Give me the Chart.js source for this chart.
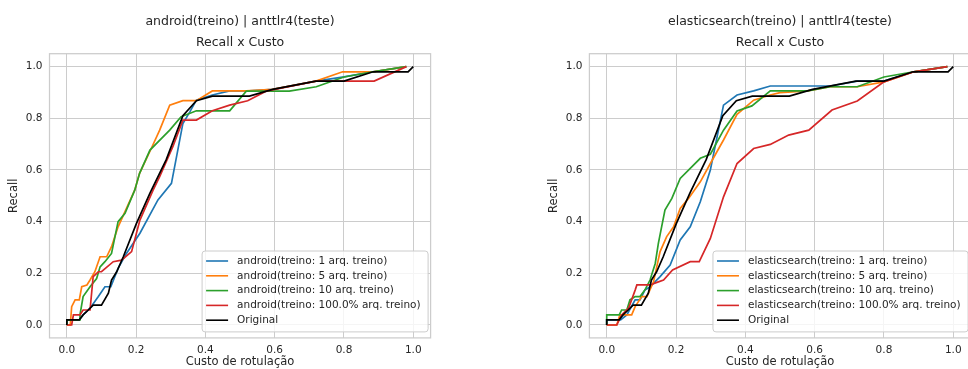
<!DOCTYPE html>
<html>
<head>
<meta charset="utf-8">
<script src="https://cdn.jsdelivr.net/npm/chart.js@4.4.0/dist/chart.umd.min.js"></script>
<style>
html, body { margin: 0; padding: 0; background: #fff; overflow: hidden; width: 968px; height: 369px; }
.box { position: absolute; top: 0; height: 369px; }
#left { left: 0; width: 484px; }
#right { left: 484px; width: 490px; }
</style>
</head>
<body>
<div class="box" id="left"><canvas id="c1"></canvas></div>
<div class="box" id="right"><canvas id="c2"></canvas></div>
<script>
// Tick labels
const xTicks = [0, 0.2, 0.4, 0.6, 0.8, 1.0];
const yTicks = [0, 0.2, 0.4, 0.6, 0.8, 1.0];

// Series names (legend)
const treinoNames = ['1 arq. treino', '5 arq. treino', '10 arq. treino', '100.0% arq. treino'];

// Original curve (same test project in both charts) - [custo, recall]
const original = [[0,0],[0,0.02],[0.036,0.02],[0.047,0.039],[0.062,0.058],[0.076,0.077],[0.10,0.077],
  [0.12,0.123],[0.129,0.174],[0.144,0.206],[0.163,0.264],[0.201,0.393],[0.24,0.51],[0.287,0.64],
  [0.335,0.81],[0.374,0.868],[0.42,0.886],[0.527,0.886],[0.594,0.912],[0.719,0.944],[0.80,0.944],
  [0.884,0.98],[0.985,0.98],[1.0,1.0]];

// android(treino) | anttlr4(teste)
const android1 = [[0,0],[0,0.02],[0.036,0.02],[0.047,0.039],[0.067,0.065],[0.091,0.11],[0.11,0.148],
  [0.127,0.148],[0.148,0.219],[0.172,0.277],[0.211,0.355],[0.263,0.484],[0.302,0.548],[0.335,0.78],
  [0.355,0.825],[0.374,0.87],[0.42,0.89],[0.47,0.906],[0.527,0.906],[0.594,0.912],[0.719,0.944],
  [0.80,0.96],[0.884,0.98],[0.98,1.0]];
const android5 = [[0,0],[0.01,0],[0.014,0.071],[0.024,0.097],[0.036,0.097],[0.043,0.148],[0.058,0.155],
  [0.067,0.174],[0.081,0.206],[0.096,0.264],[0.115,0.264],[0.129,0.303],[0.148,0.38],[0.196,0.522],
  [0.21,0.587],[0.244,0.684],[0.268,0.754],[0.297,0.851],[0.335,0.868],[0.374,0.868],[0.42,0.906],
  [0.518,0.906],[0.594,0.912],[0.719,0.944],[0.796,0.98],[0.884,0.98],[0.98,1.0]];
const android10 = [[0,0],[0,0.02],[0.036,0.02],[0.038,0.039],[0.047,0.11],[0.067,0.148],[0.086,0.18],
  [0.096,0.225],[0.11,0.245],[0.129,0.277],[0.148,0.40],[0.168,0.432],[0.196,0.522],[0.21,0.587],
  [0.24,0.677],[0.297,0.754],[0.33,0.806],[0.374,0.829],[0.47,0.829],[0.518,0.905],[0.642,0.905],
  [0.72,0.922],[0.80,0.96],[0.884,0.98],[0.98,1.0]];
const android100 = [[0,0],[0.014,0],[0.019,0.039],[0.038,0.039],[0.047,0.058],[0.067,0.058],[0.076,0.187],
  [0.091,0.206],[0.10,0.206],[0.134,0.245],[0.158,0.251],[0.187,0.284],[0.211,0.406],[0.249,0.522],
  [0.268,0.574],[0.306,0.69],[0.335,0.793],[0.374,0.793],[0.42,0.829],[0.47,0.851],[0.522,0.868],
  [0.575,0.905],[0.719,0.944],[0.887,0.944],[0.98,1.0]];

// elasticsearch(treino) | anttlr4(teste)
const elastic1 = [[0,0],[0,0.02],[0.04,0.02],[0.058,0.039],[0.082,0.097],[0.096,0.097],[0.11,0.135],
  [0.125,0.148],[0.154,0.187],[0.183,0.232],[0.212,0.329],[0.241,0.38],[0.27,0.477],[0.299,0.60],
  [0.337,0.851],[0.376,0.89],[0.424,0.906],[0.472,0.925],[0.645,0.925],[0.723,0.944],[0.80,0.944],
  [0.886,0.98],[0.983,1.0]];
const elastic5 = [[0,0],[0.029,0],[0.038,0.039],[0.072,0.039],[0.082,0.071],[0.101,0.11],[0.116,0.11],
  [0.135,0.167],[0.154,0.284],[0.173,0.342],[0.193,0.38],[0.212,0.451],[0.236,0.49],[0.27,0.554],
  [0.299,0.625],[0.337,0.716],[0.376,0.815],[0.424,0.87],[0.472,0.89],[0.50,0.899],[0.58,0.906],
  [0.645,0.922],[0.723,0.922],[0.80,0.941],[0.886,0.98],[0.983,1.0]];
const elastic10 = [[0,0],[0,0.039],[0.036,0.039],[0.043,0.058],[0.058,0.058],[0.067,0.097],[0.082,0.11],
  [0.096,0.11],[0.11,0.135],[0.125,0.174],[0.14,0.238],[0.149,0.316],[0.168,0.445],[0.188,0.49],
  [0.212,0.567],[0.241,0.606],[0.27,0.645],[0.299,0.661],[0.337,0.754],[0.376,0.828],[0.419,0.848],
  [0.472,0.906],[0.58,0.906],[0.645,0.922],[0.723,0.922],[0.80,0.96],[0.886,0.98],[0.983,1.0]];
const elastic100 = [[0,0],[0.029,0],[0.043,0.039],[0.063,0.065],[0.082,0.135],[0.087,0.155],[0.125,0.155],
  [0.149,0.167],[0.164,0.174],[0.19,0.213],[0.241,0.245],[0.267,0.245],[0.299,0.335],[0.337,0.496],
  [0.376,0.625],[0.424,0.683],[0.472,0.699],[0.525,0.735],[0.583,0.754],[0.65,0.832],[0.723,0.867],
  [0.80,0.941],[0.886,0.98],[0.983,1.0]];

const colors = ['#1f77b4', '#ff7f0e', '#2ca02c', '#d62728', '#000000'];
const textColor = '#262626';
const gridColor = '#cccccc';
Chart.defaults.font.family = '"DejaVu Sans"';

// Frame around the plot area
const framePlugin = {
  id: 'frame',
  beforeDatasetsDraw(chart) {
    const {ctx, chartArea: a} = chart;
    ctx.save();
    ctx.strokeStyle = gridColor;
    ctx.lineWidth = 1.25;
    ctx.strokeRect(a.left, a.top, a.right - a.left, a.bottom - a.top);
    ctx.restore();
  }
};

// Legend box in lower right corner of the plot
const boxLegend = {
  id: 'boxLegend',
  afterDraw(chart) {
    const {ctx, chartArea: a} = chart;
    const ds = chart.data.datasets;
    ctx.save();
    ctx.font = '10.5px "DejaVu Sans"';
    const tw = Math.max(...ds.map(d => ctx.measureText(d.label).width));
    const rowH = 14.8;
    const w = 35 + tw + 7.5;
    const h = 10 + (ds.length - 1) * rowH + 11.7;
    const x = a.right - 2.5 - w;
    const y = a.bottom - 6 - h;
    ctx.beginPath();
    ctx.roundRect(x, y, w, h, 3);
    ctx.fillStyle = 'rgba(255,255,255,0.8)';
    ctx.fill();
    ctx.strokeStyle = gridColor;
    ctx.lineWidth = 1;
    ctx.stroke();
    ds.forEach((d, i) => {
      const cy = y + 10 + i * rowH;
      ctx.beginPath();
      ctx.moveTo(x + 4, cy);
      ctx.lineTo(x + 26, cy);
      ctx.strokeStyle = d.borderColor;
      ctx.lineWidth = 1.6;
      ctx.stroke();
      ctx.fillStyle = textColor;
      ctx.textBaseline = 'middle';
      ctx.textAlign = 'left';
      ctx.fillText(d.label, x + 35, cy);
    });
    ctx.restore();
  }
};

function makeChart(id, title, proj, series, padLeft, padRight) {
  const labels = treinoNames.map(n => `${proj}(treino: ${n})`).concat(['Original']);
  const datasets = series.concat([original]).map((pts, i) => ({
    label: labels[i],
    data: pts.map(p => ({x: p[0], y: p[1]})),
    borderColor: colors[i],
    borderWidth: 1.7,
    pointRadius: 0,
    fill: false,
    tension: 0,
    order: 4 - i
  }));
  return new Chart(document.getElementById(id), {
    type: 'line',
    data: {datasets},
    plugins: [framePlugin, boxLegend],
    options: {
      responsive: true,
      maintainAspectRatio: false,
      devicePixelRatio: 1,
      animation: false,
      layout: {padding: {left: padLeft, right: padRight, top: -2, bottom: 0}},
      plugins: {
        legend: {display: false},
        tooltip: {enabled: false},
        title: {
          display: true,
          text: [title, 'Recall x Custo'],
          fullSize: false,
          color: textColor,
          font: {size: 12.5, weight: 'normal', lineHeight: 1.7},
          padding: {top: 13.2, bottom: 0}
        }
      },
      scales: {
        x: {
          type: 'linear',
          min: -0.05,
          max: 1.05,
          afterBuildTicks: s => { s.ticks = xTicks.map(v => ({value: v})); },
          afterFit: s => { s.height = 31.1; },
          ticks: {callback: v => v.toFixed(1), color: textColor, font: {size: 10.5}, padding: 6, maxRotation: 0, autoSkip: false},
          grid: {color: gridColor, lineWidth: 1, drawTicks: false},
          border: {display: false},
          title: {display: true, text: 'Custo de rotulação', color: textColor, font: {size: 11.5}, padding: {top: 0, bottom: 0}}
        },
        y: {
          type: 'linear',
          min: -0.05,
          max: 1.05,
          afterBuildTicks: s => { s.ticks = yTicks.map(v => ({value: v})); },
          afterFit: s => { s.width = 49.5; },
          ticks: {callback: v => v.toFixed(1), color: textColor, font: {size: 10.5}, padding: 7},
          grid: {color: gridColor, lineWidth: 1, drawTicks: false},
          border: {display: false},
          title: {display: true, text: 'Recall', color: textColor, font: {size: 11.5}, padding: {top: 7.5, bottom: 0}}
        }
      }
    }
  });
}

makeChart('c1', 'android(treino) | anttlr4(teste)', 'android',
  [android1, android5, android10, android100], 0, 53.4);
makeChart('c2', 'elasticsearch(treino) | anttlr4(teste)', 'elasticsearch',
  [elastic1, elastic5, elastic10, elastic100], 55.9, 3.4);
</script>
</body>
</html>
